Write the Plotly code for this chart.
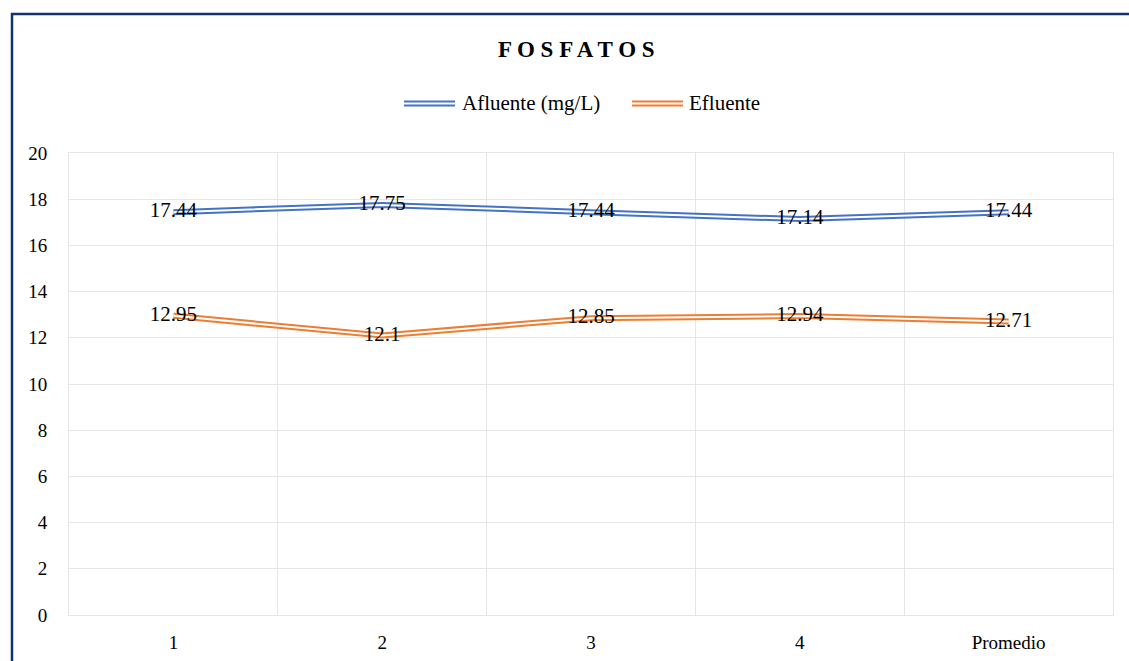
import plotly.graph_objects as go

categories = ["1", "2", "3", "4", "Promedio"]
afluente = [17.44, 17.75, 17.44, 17.14, 17.44]
efluente = [12.95, 12.1, 12.85, 12.94, 12.71]
afluente_labels = ["17.44", "17.75", "17.44", "17.14", "17.44"]
efluente_labels = ["12.95", "12.1", "12.85", "12.94", "12.71"]
y_ticks = [0, 2, 4, 6, 8, 10, 12, 14, 16, 18, 20]

BLUE = "#4472C4"
ORANGE = "#ED7D31"
GRID = "#E6E6E6"
FONT = "Liberation Serif, Times New Roman, serif"
xpos = list(range(len(categories)))

fig = go.Figure()
for vals, col in [(afluente, BLUE), (efluente, ORANGE)]:
    fig.add_trace(go.Scatter(x=xpos, y=vals, mode="lines",
                             line=dict(color=col, width=6), showlegend=False, hoverinfo="skip"))
    fig.add_trace(go.Scatter(x=xpos, y=vals, mode="lines",
                             line=dict(color="white", width=2), showlegend=False, hoverinfo="skip"))
for vals, labs in [(afluente, afluente_labels), (efluente, efluente_labels)]:
    fig.add_trace(go.Scatter(x=xpos, y=vals, mode="text", text=labs,
                             textposition="middle center",
                             textfont=dict(family=FONT, size=21, color="#000000"),
                             showlegend=False, hoverinfo="skip"))

L, R, T, B = 69, 16, 153, 46
W, H = 1129, 661
pw, ph = W - L - R, H - T - B

def px(x):
    return (x - L) / pw

def py(y):
    return (H - B - y) / ph

shapes = []
# outer border
shapes.append(dict(type="rect", xref="paper", yref="paper",
                   x0=px(12), x1=px(1140), y0=py(14), y1=py(680),
                   line=dict(color="#13306F", width=2.5), fillcolor="rgba(0,0,0,0)", layer="above"))
# manual legend symbols (double line)
for x0, x1, col in [(404, 455, BLUE), (632, 683, ORANGE)]:
    shapes.append(dict(type="line", xref="paper", yref="paper", x0=px(x0), x1=px(x1),
                       y0=py(103.5), y1=py(103.5), line=dict(color=col, width=6)))
    shapes.append(dict(type="line", xref="paper", yref="paper", x0=px(x0), x1=px(x1),
                       y0=py(103.5), y1=py(103.5), line=dict(color="white", width=2)))

annotations = [
    dict(text="<b>F O S F A T O S</b>", xref="paper", yref="paper",
         x=px(576), y=py(49), xanchor="center", yanchor="middle", showarrow=False,
         font=dict(family=FONT, size=23, color="#000000")),
    dict(text="Afluente (mg/L)", xref="paper", yref="paper", x=px(460), y=py(103),
         xanchor="left", yanchor="middle", showarrow=False,
         font=dict(family=FONT, size=21, color="#000000")),
    dict(text="Efluente", xref="paper", yref="paper", x=px(687), y=py(103),
         xanchor="left", yanchor="middle", showarrow=False,
         font=dict(family=FONT, size=21, color="#000000")),
]

fig.update_layout(
    width=W, height=H,
    margin=dict(l=L, r=R, t=T, b=B, autoexpand=False),
    paper_bgcolor="white", plot_bgcolor="white",
    showlegend=False,
    shapes=shapes, annotations=annotations,
    xaxis=dict(range=[-0.5, len(categories) - 0.5], tickmode="array", tickvals=xpos,
               ticktext=categories, showgrid=False, zeroline=False, automargin=False,
               showline=True, linecolor=GRID, linewidth=1, mirror=True,
               ticks="", ticklabelstandoff=10,
               tickfont=dict(family=FONT, size=19, color="#000000"),
               minor=dict(tickmode="array", tickvals=[i - 0.5 for i in range(len(categories) + 1)],
                          showgrid=True, gridcolor=GRID, gridwidth=1, ticks="")),
    yaxis=dict(range=[0, 20], tickmode="array", tickvals=y_ticks, automargin=False,
               showgrid=True, gridcolor=GRID, gridwidth=1, zeroline=False,
               showline=True, linecolor=GRID, linewidth=1, mirror=True,
               ticks="", ticklabelstandoff=17,
               tickfont=dict(family=FONT, size=19, color="#000000")),
)

fig.write_html("out.html", config={"displayModeBar": False},
               post_script="document.body.style.margin='0';")
